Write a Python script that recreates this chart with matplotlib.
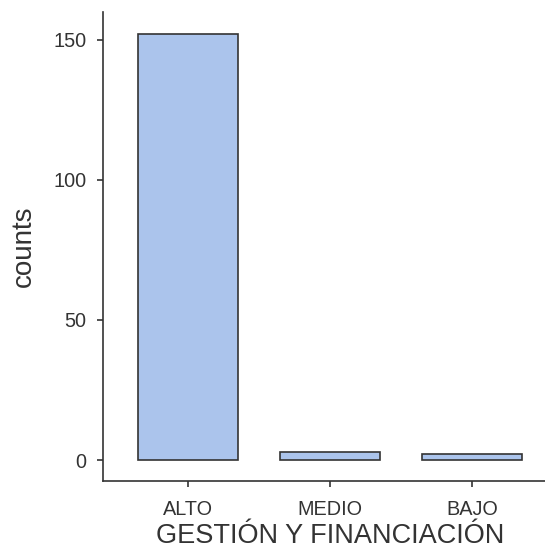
import matplotlib
matplotlib.use('Agg')
import matplotlib.pyplot as plt

categories = ['ALTO', 'MEDIO', 'BAJO']
counts = [152, 3, 2]

plt.rcParams['font.family'] = ['Liberation Sans', 'DejaVu Sans']

fig = plt.figure(figsize=(5.45, 5.6), dpi=100)
# panel runs a little past the right edge, like the original
ax = fig.add_axes([0.189, 0.141, 0.833, 0.838])

x = [1, 2, 3]
ax.bar(x, counts, width=0.7, color='#abc4ec', edgecolor='#333333', linewidth=1.2)

ax.set_xticks(x)
ax.set_xticklabels(categories)
ax.set_yticks([0, 50, 100, 150])
ax.set_xlim(0.4, 3.6)
ax.set_ylim(-7.5, 160)

for s in ['top', 'right']:
    ax.spines[s].set_visible(False)
for s in ['left', 'bottom']:
    ax.spines[s].set_color('#333333')
    ax.spines[s].set_linewidth(1.2)

ax.tick_params(axis='both', length=4.3, width=1.2, color='#333333',
               labelcolor='#333333', labelsize=14.3, pad=7.5)
ax.tick_params(axis='x', pad=9.5)
ax.set_xlabel('GESTIÓN Y FINANCIACIÓN', fontsize=19.5, color='#333333', labelpad=3)
ax.set_ylabel('counts', fontsize=20, color='#333333', labelpad=12)

fig.savefig('out.png', dpi=100)
